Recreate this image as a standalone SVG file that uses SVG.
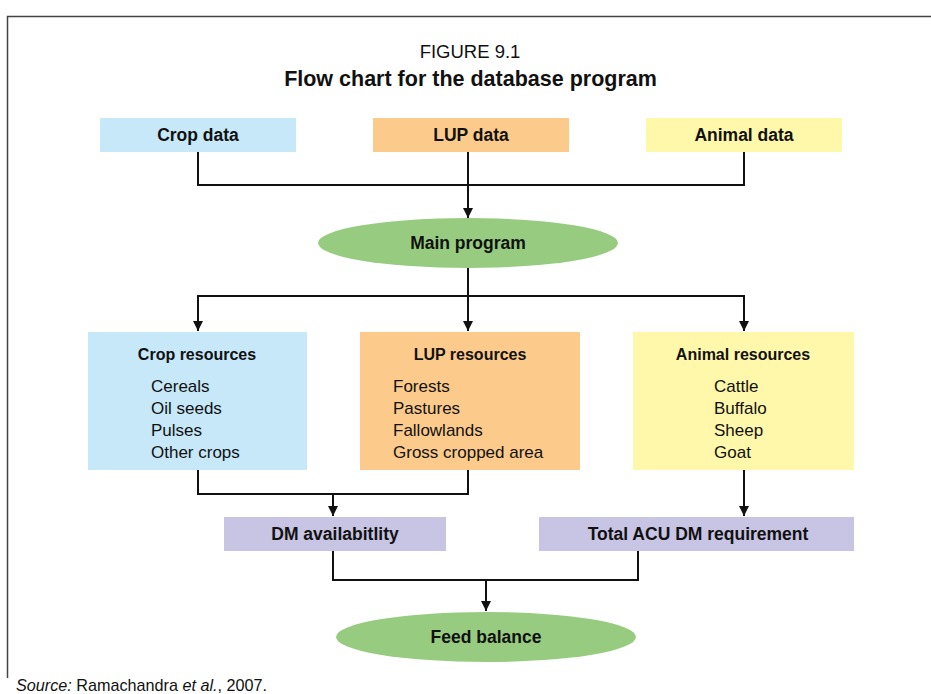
<svg xmlns="http://www.w3.org/2000/svg" width="931" height="694" viewBox="0 0 931 694">
<defs>
<style>
text{font-family:"Liberation Sans",Arial,sans-serif;fill:#111;}
.b{font-weight:bold;font-size:16px;text-anchor:middle;}
.l{font-weight:bold;font-size:17.5px;text-anchor:middle;}
.i{font-size:17px;}
.c{stroke:#111;stroke-width:2;fill:none;}
.blue{fill:#c6e8f8;}
.orange{fill:#fccb8b;}
.yellow{fill:#fff7a9;}
.purple{fill:#c8c4e3;}
.green{fill:#97cc80;}
</style>
<marker id="ah" viewBox="0 0 10 10" refX="10" refY="5" markerWidth="5.5" markerHeight="5" markerUnits="strokeWidth" orient="auto">
<path d="M0,0 L10,5 L0,10 z" fill="#111"/>
</marker>
</defs>
<rect x="0" y="0" width="931" height="694" fill="#fff"/>
<path d="M7.5,678 V16.5 H931" fill="none" stroke="#444" stroke-width="1.5"/>
<text x="470" y="58" text-anchor="middle" font-size="18.5">FIGURE 9.1</text>
<text x="470.5" y="86" text-anchor="middle" font-size="21.5" font-weight="bold">Flow chart for the database program</text>

<g id="connectors">
<path class="c" d="M198,152 V185 H744 V152"/>
<path class="c" d="M468,152 V218" marker-end="url(#ah)"/>
<path class="c" d="M468,268 V296"/>
<path class="c" d="M198,331 V296 H744 V331" marker-end="url(#ah)"/>
<path class="c" d="M198,296 V331" marker-end="url(#ah)"/>
<path class="c" d="M468,296 V331" marker-end="url(#ah)"/>
<path class="c" d="M198,470 V494 H468 V470"/>
<path class="c" d="M333,494 V516" marker-end="url(#ah)"/>
<path class="c" d="M744,470 V516" marker-end="url(#ah)"/>
<path class="c" d="M333,551 V580 H638 V551"/>
<path class="c" d="M486,580 V611" marker-end="url(#ah)"/>
</g>

<g id="crop-data"><rect class="blue" x="100" y="118" width="196" height="34"/><text class="l" x="198" y="141">Crop data</text></g>
<g id="lup-data"><rect class="orange" x="373" y="118" width="196" height="34"/><text class="l" x="471" y="141">LUP data</text></g>
<g id="animal-data"><rect class="yellow" x="646" y="118" width="196" height="34"/><text class="l" x="744" y="141">Animal data</text></g>

<g id="main-program"><ellipse class="green" cx="468" cy="243" rx="150" ry="25"/><text class="l" x="468" y="249">Main program</text></g>

<g id="crop-resources"><rect class="blue" x="88" y="332" width="219" height="138"/>
<text class="b" x="197" y="360">Crop resources</text>
<text class="i" x="151" y="392">Cereals</text>
<text class="i" x="151" y="414">Oil seeds</text>
<text class="i" x="151" y="436">Pulses</text>
<text class="i" x="151" y="458">Other crops</text></g>

<g id="lup-resources"><rect class="orange" x="360" y="332" width="220" height="138"/>
<text class="b" x="470" y="360">LUP resources</text>
<text class="i" x="393" y="392">Forests</text>
<text class="i" x="393" y="414">Pastures</text>
<text class="i" x="393" y="436">Fallowlands</text>
<text class="i" x="393" y="458">Gross cropped area</text></g>

<g id="animal-resources"><rect class="yellow" x="633" y="332" width="221" height="138"/>
<text class="b" x="743" y="360">Animal resources</text>
<text class="i" x="714" y="392">Cattle</text>
<text class="i" x="714" y="414">Buffalo</text>
<text class="i" x="714" y="436">Sheep</text>
<text class="i" x="714" y="458">Goat</text></g>

<g id="dm-availability"><rect class="purple" x="224" y="517" width="222" height="34"/><text class="l" x="335" y="540">DM availabitlity</text></g>
<g id="total-acu"><rect class="purple" x="539" y="517" width="315" height="34"/><text class="l" x="698" y="540">Total ACU DM requirement</text></g>

<g id="feed-balance"><ellipse class="green" cx="486" cy="637" rx="150" ry="25"/><text class="l" x="486" y="643">Feed balance</text></g>

<text x="16" y="691" font-size="16.2"><tspan font-style="italic">Source:</tspan> Ramachandra <tspan font-style="italic">et al.</tspan>, 2007.</text>
</svg>
